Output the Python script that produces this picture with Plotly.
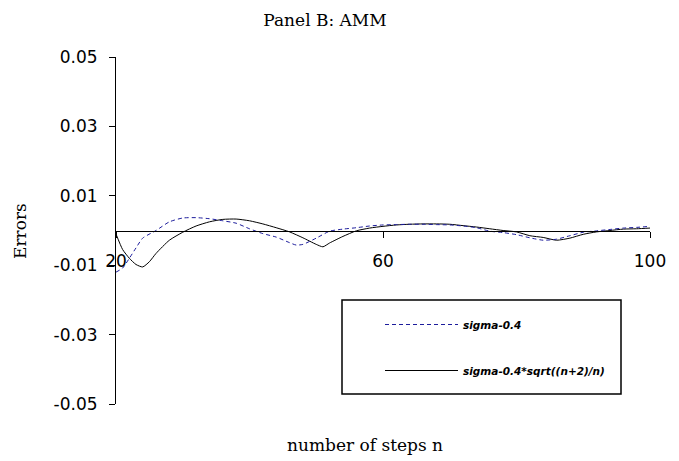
import plotly.graph_objects as go

# ---- data ----
n_sigma = [20, 21, 22, 23, 24, 26, 28, 30, 32, 34, 36, 38, 40, 42, 44, 46, 47, 48, 50, 52, 54, 56, 58, 60,
           62, 64, 66, 68, 70, 72, 74, 76, 78, 80, 82, 84, 86, 88, 90, 92, 94, 96, 98, 100]
err_sigma = [-0.0120, -0.0108, -0.0080, -0.0050, -0.0022, 0.0000, 0.0025, 0.0036, 0.0037, 0.0034, 0.0028,
             0.0021, 0.0005, -0.0009, -0.0019, -0.0035, -0.0042, -0.0040, -0.0022, -0.0002, 0.0004, 0.0008,
             0.0013, 0.0016, 0.0017, 0.0018, 0.0018, 0.0017, 0.0016, 0.0013, 0.0008, -0.0002, -0.0006,
             -0.0012, -0.0021, -0.0028, -0.0025, -0.0015, -0.0005, -0.0001, 0.0003, 0.0007, 0.0009, 0.0012]

n_adj = [20, 21, 22, 23, 24, 25, 26, 28, 30, 32, 34, 36, 38, 40, 42, 44, 46, 48, 50, 51, 52, 54, 56, 58, 60,
         62, 64, 66, 68, 70, 72, 74, 76, 78, 80, 82, 84, 86, 88, 90, 92, 94, 96, 98, 100]
err_adj = [-0.0010, -0.0055, -0.0080, -0.0098, -0.0105, -0.0090, -0.0066, -0.0028, -0.0005, 0.0013, 0.0025,
           0.0032, 0.0033, 0.0028, 0.0019, 0.0008, -0.0004, -0.0021, -0.0040, -0.0047, -0.0036, -0.0017,
           -0.0001, 0.0007, 0.0012, 0.0016, 0.0018, 0.0019, 0.0019, 0.0018, 0.0014, 0.0010, 0.0005, 0.0000,
           -0.0004, -0.0015, -0.0020, -0.0028, -0.0022, -0.0011, -0.0004, 0.0000, 0.0004, 0.0005, 0.0007]

name_sigma = "sigma-0.4"
name_adj = "sigma-0.4*sqrt((n+2)/n)"

x_ticks = [20, 60, 100]
y_ticks = [-0.05, -0.03, -0.01, 0.01, 0.03, 0.05]
y_ticktext = ["-0.05", "-0.03", "-0.01", "0.01", "0.03", "0.05"]

title_text = "Panel B: AMM"
x_title = "number of steps n"
y_title = "Errors"

# ---- figure (page body adds an 8px offset) ----
W, H = 671, 453
L, R, T, B = 108, 29, 49, 57
PW, PH = W - L - R, H - T - B


def px(x):
    return (x - L) / PW


def py(y):
    return (H - B - y) / PH


fig = go.Figure()
fig.add_trace(go.Scatter(
    x=n_adj, y=err_adj, mode="lines", name=name_adj,
    line=dict(color="black", width=1, shape="spline", smoothing=0.6),
    legendgroup="b", legendrank=2))
fig.add_trace(go.Scatter(
    x=n_sigma, y=err_sigma, mode="lines", name=name_sigma,
    line=dict(color="#1c1c9c", width=1, dash="4px,3px", shape="spline", smoothing=0.6),
    legendgroup="a", legendrank=1))

serif = "DejaVu Serif"
sans = "DejaVu Sans"

fig.update_layout(
    width=W, height=H,
    margin=dict(l=L, r=R, t=T, b=B, autoexpand=False),
    paper_bgcolor="white", plot_bgcolor="white",
    title=dict(text=title_text, x=317 / W, xref="container", xanchor="center",
               y=1 - 12 / H, yref="container", yanchor="middle",
               font=dict(family=serif, size=17, color="black")),
    xaxis=dict(range=[20, 100], anchor="free", position=0.5, showline=True, linecolor="black",
               linewidth=1, ticks="outside", ticklen=6, tickcolor="black", tickvals=x_ticks,
               showgrid=False, zeroline=False, ticklabelstandoff=9,
               tickfont=dict(family=sans, size=17, color="black")),
    yaxis=dict(range=[-0.05, 0.05], showline=True, linecolor="black", linewidth=1,
               ticks="outside", ticklen=6, tickcolor="black", tickvals=y_ticks, ticktext=y_ticktext,
               showgrid=False, zeroline=False, ticklabelstandoff=8,
               tickfont=dict(family=sans, size=17, color="black")),
    showlegend=True,
    legend=dict(x=px(372), xanchor="left", y=py(302), yanchor="top",
                bgcolor="rgba(0,0,0,0)", borderwidth=0, itemwidth=73, traceorder="grouped",
                tracegroupgap=27, itemclick=False,
                font=dict(family=sans, size=10.5, color="black", weight="bold", style="italic")),
    annotations=[
        dict(text=x_title, x=px(357), xref="paper", y=py(437), yref="paper",
             xanchor="center", yanchor="middle", showarrow=False,
             font=dict(family=serif, size=17, color="black")),
        dict(text=y_title, x=px(12), xref="paper", y=py(223), yref="paper", textangle=-90,
             xanchor="center", yanchor="middle", showarrow=False,
             font=dict(family=serif, size=17, color="black")),
    ],
    shapes=[dict(type="rect", xref="paper", yref="paper",
                 x0=px(334), x1=px(613), y0=py(386), y1=py(292),
                 line=dict(color="black", width=1.5), fillcolor="rgba(0,0,0,0)", layer="above")],
)

fig.write_html("out.html")
